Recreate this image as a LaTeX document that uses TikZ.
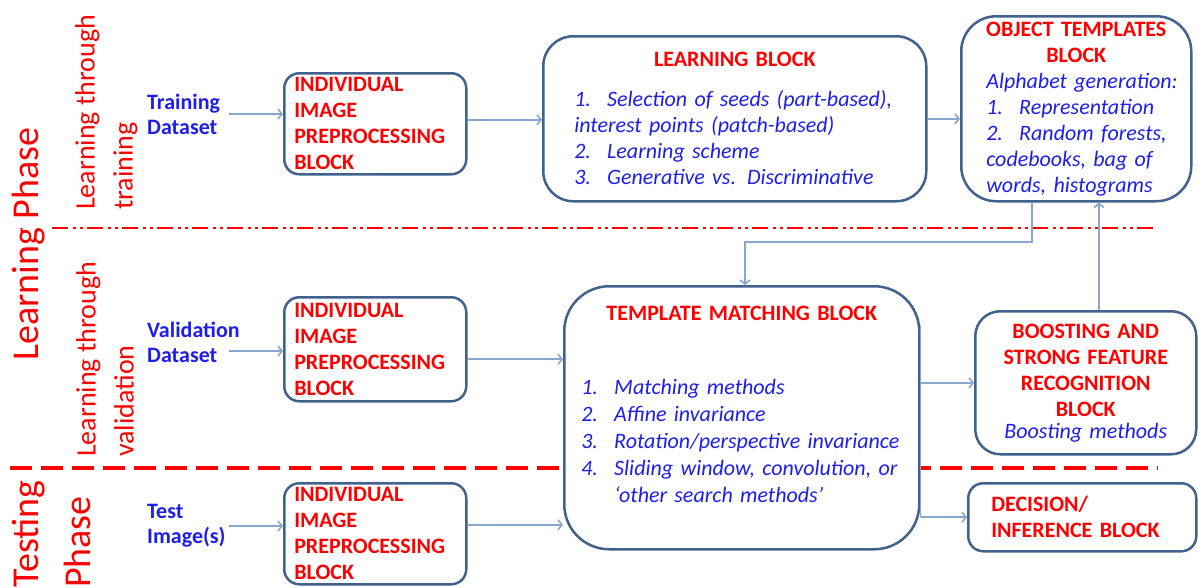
\documentclass[tikz,border=0pt]{standalone}
\usepackage{fontspec}
\setmainfont{Carlito}
\usetikzlibrary{positioning,arrows.meta}
\definecolor{boxblue}{RGB}{66,98,142}
\definecolor{arrblue}{RGB}{137,166,206}
\definecolor{txtblue}{RGB}{30,30,235}
\definecolor{phred}{RGB}{255,0,0}
\newcommand{\redln}[1]{\textcolor{phred}{\textbf{#1}}}
\newcommand{\blueln}[1]{\textcolor{txtblue}{\textit{#1}}}
\newcommand{\numit}[1]{\makebox[33pt][l]{#1}}
\newcommand{\midln}[1]{\makebox[\hsize]{#1}}

\begin{document}
\begin{tikzpicture}[x=1pt,y=-1pt,
    % define styles
    blk/.style={
        draw=boxblue,
        line width=2.5pt,
        fill=white,
        rounded corners=#1,
        anchor=north west,
        inner ysep=0pt,
        align=left,
        font=\fontsize{22}{26}\selectfont
    },
    redblk/.style={
        text=phred,
        font=\fontsize{22}{26}\selectfont\bfseries
    },
    src/.style={
        anchor=west,
        align=left,
        inner sep=0pt,
        text width=82pt,
        text=txtblue,
        font=\fontsize{22}{25}\selectfont\bfseries
    },
    phase/.style={
        rotate=90,
        anchor=north west,
        align=left,
        inner sep=0pt,
        text=phred
    },
    arr/.style={
        draw=arrblue,
        line width=1.6pt,
        -{Straight Barb[length=4pt,width=10pt]}
    },
    divline/.style={
        draw=phred,
        line width=#1
    }
]
\useasboundingbox (0,0) rectangle (1198,587);

% phase separators
\draw[divline=2pt, dash pattern=on 16pt off 5pt on 3pt off 4pt on 3pt off 4pt] (52,228) -- (1158,228);
\draw[divline=4pt, dash pattern=on 22pt off 9pt] (10,468) -- (1158,468);

% phase labels
\node[phase, font=\fontsize{38}{52}\selectfont] (lph) at (12,361) {Learning Phase};
\node[phase, font=\fontsize{38}{52}\selectfont] (tph) at (12,588) {Testing\\Phase};
\node[phase, font=\fontsize{28}{38}\selectfont] (ltr) at (75,210) {Learning through\\training};
\node[phase, font=\fontsize{28}{38}\selectfont] (lval) at (76,457) {Learning through\\validation};

% inputs
\node[src] (trn) at (147,114) {Training\\Dataset};
\node[src] (val) at (147,342) {\mbox{Validation}\\Dataset};
\node[src] (tst) at (147,526) {Test\\Image(s)};

% preprocessing blocks
\node[blk=15pt, redblk, inner xsep=10pt, text width=162pt, minimum height=101pt] (pre1) at (283,72)
    {INDIVIDUAL\\IMAGE\\PREPROCESSING\\BLOCK};
\node[blk=15pt, redblk, inner xsep=10pt, text width=162pt, minimum height=104pt] (pre2) at (283,296)
    {INDIVIDUAL\\IMAGE\\PREPROCESSING\\BLOCK};
\node[blk=15pt, redblk, inner xsep=10pt, text width=162pt, minimum height=101pt] (pre3) at (283,482)
    {INDIVIDUAL\\IMAGE\\PREPROCESSING\\BLOCK};

% learning block
\node[blk=30pt, inner xsep=31pt, text width=321pt, minimum height=165pt] (learn) at (542,35)
    {\midln{\redln{LEARNING BLOCK}}\\[14pt]
     \blueln{\numit{1.}Selection of seeds (part-based),}\\
     \blueln{interest points (patch-based)}\\
     \blueln{\numit{2.}Learning scheme}\\
     \blueln{\numit{3.}Generative vs. Discriminative}};

% object templates
\node[blk=35pt, inner xsep=25pt, text width=180pt, minimum height=185pt] (obj) at (960,15)
    {\midln{\redln{OBJECT TEMPLATES}}\\
     \midln{\redln{BLOCK}}\\
     \blueln{\mbox{Alphabet generation:}}\\
     \blueln{\mbox{\numit{1.}Representation}}\\
     \blueln{\mbox{\numit{2.}Random forests,}}\\
     \blueln{\mbox{codebooks, bag of}}\\
     \blueln{\mbox{words, histograms}}};

% template matching
\node[blk=45pt, inner xsep=17pt, text width=321pt, minimum height=263pt,
      font=\fontsize{22}{27}\selectfont] (tm) at (563,285)
    {\midln{\redln{TEMPLATE MATCHING BLOCK}}\\[47pt]
     \blueln{\numit{1.}Matching methods}\\
     \blueln{\numit{2.}Affine invariance}\\
     \blueln{\numit{3.}Rotation/perspective invariance}\\
     \blueln{\numit{4.}Sliding window, convolution, or}\\
     \blueln{\hspace*{33pt}`other search methods'}\\[-1pt]\mbox{}};

% boosting
\node[blk=25pt, align=center, inner xsep=8pt, text width=205pt, minimum height=143pt] (boost) at (974,310)
    {\redln{BOOSTING AND}\\\redln{STRONG FEATURE}\\\redln{RECOGNITION}\\\redln{BLOCK}\\[-4pt]
     \blueln{Boosting methods}};

% decision
\node[blk=15pt, redblk, inner xsep=23pt, text width=182pt, minimum height=68pt] (dec) at (967,482)
    {DECISION/\\INFERENCE BLOCK};

% connectors
\coordinate (fbtop) at (1032,242);
\coordinate (fbdrop) at (745,242);
\coordinate (uparr) at (1099,0);
\coordinate (tmtap) at (0,325);

\draw[arr] (trn.east) -- (trn.east -| pre1.west);
\draw[arr] ([yshift=-9pt]val.east) -- ([yshift=-9pt]val.east -| pre2.west);
\draw[arr] (tst.east) -- (tst.east -| pre3.west);
\draw[arr] ([yshift=4pt]pre1.east) -- ([yshift=4pt]pre1.east -| learn.west);
\draw[arr] (learn.east) -- (learn.east -| obj.west);
\draw[arr] ([yshift=-10pt]pre2.east) -- ([yshift=-10pt]pre2.east -| tm.west);
\draw[arr] ([yshift=9pt]pre3.east) -- ([yshift=9pt]pre3.east -| tm.west);
\draw[arr] (obj.south -| fbtop) -- (fbtop) -- (fbdrop) -- (fbdrop |- tm.north);
\draw[arr] (boost.north -| uparr) -- (obj.south -| uparr);
\draw[arrblue, line width=1.6pt] (tm.east |- tmtap) -- (tm.east |- dec);
\draw[arr] (tm.east |- boost) -- (boost.west);
\draw[arr] (tm.east |- dec) -- (dec.west);
\end{tikzpicture}
\end{document}
